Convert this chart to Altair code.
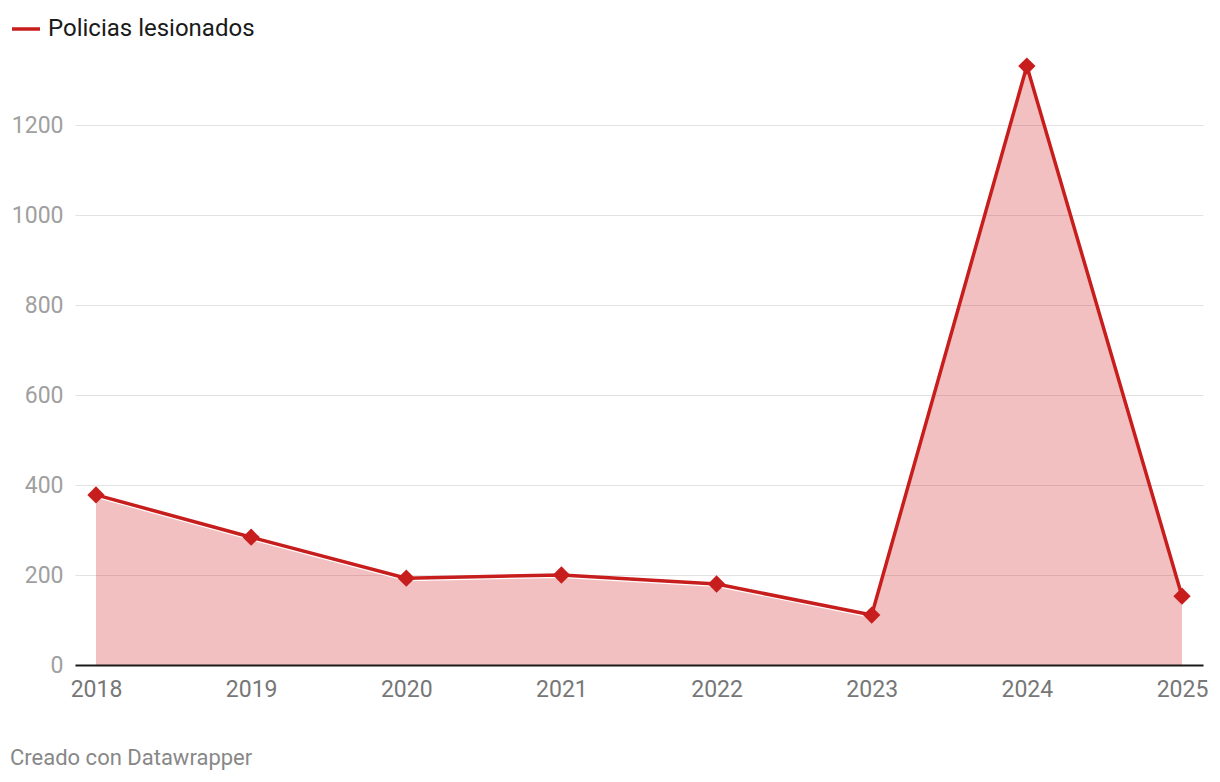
import altair as alt
import pandas as pd

years = [2018, 2019, 2020, 2021, 2022, 2023, 2024, 2025]
values = [378, 284, 193, 200, 180, 111, 1331, 153]
series = "Policias lesionados"

df = pd.DataFrame({"year": years, "value": values, "serie": [series] * len(years)})

RED = "#c71e1d"
AREA = "#d21e1d"
W, H = 1128, 630
px_per_year = (1182 - 96) / 7
x0 = 2018 - (96 - 75) / px_per_year
x1 = 2025 + (1203 - 1182) / px_per_year

xs = alt.Scale(domain=[x0, x1], nice=False, zero=False)
ys = alt.Scale(domain=[0, 1400], nice=False)

xenc = alt.X("year:Q", scale=xs, axis=alt.Axis(
    values=years, format="d", title=None, ticks=False, grid=False,
    domain=True, domainColor="#1a1a1a", domainWidth=2, zindex=1,
    labelFont="Roboto", labelFontSize=23, labelColor="#777777", labelPadding=13))
yenc = alt.Y("value:Q", scale=ys, axis=alt.Axis(
    values=[0, 200, 400, 600, 800, 1000, 1200], format="d", title=None, ticks=False,
    domain=False, grid=True, gridColor="#e2e2e2", gridWidth=1.2,
    labelFont="Roboto", labelFontSize=23, labelColor="#a0a0a0", labelPadding=12))

area = alt.Chart(df).mark_area(color=AREA, opacity=0.28, yOffset=2).encode(
    x=xenc, y=yenc, y2=alt.value(H - 2))
white = alt.Chart(df).mark_line(color="white", strokeWidth=2, yOffset=2).encode(
    x="year:Q", y="value:Q")
line = alt.Chart(df).mark_line(strokeWidth=3.5).encode(
    x="year:Q", y="value:Q",
    color=alt.Color("serie:N", scale=alt.Scale(range=[RED]), legend=alt.Legend(
        orient="none", legendX=-65, legendY=-22, title=None, symbolType="stroke",
        symbolStrokeWidth=3.5, symbolSize=784, labelFont="Roboto", labelFontSize=24,
        labelColor="#1a1a1a", padding=0, labelOffset=6, labelLimit=400)))
pts = alt.Chart(df).mark_point(shape="diamond", filled=True, size=300, opacity=1,
                               color=RED).encode(x="year:Q", y="value:Q")

footer = alt.Chart(pd.DataFrame({"t": ["Creado con Datawrapper"]})).mark_text(
    align="left", baseline="middle", font="Roboto", fontSize=22, color="#888888"
).encode(text="t:N", x=alt.value(-65), y=alt.value(758 - 35))

chart = alt.layer(area, white, line, pts, footer).properties(
    width=W, height=H,
    autosize=alt.AutoSizeParams(type="none"),
    padding={"left": 67, "top": 27, "right": 8, "bottom": 108},
).configure_view(stroke=None)

chart.save("out.html", embed_options={"renderer": "svg", "actions": False})
